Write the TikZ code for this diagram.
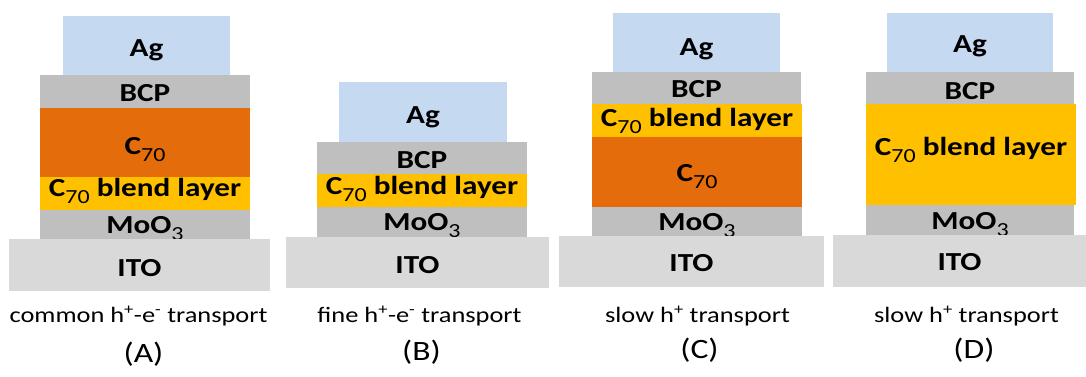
\documentclass[tikz,border=0pt]{standalone}
\usepackage{fontspec}
\setmainfont{Carlito}[FakeStretch=1.2]
\usetikzlibrary{positioning}
\definecolor{agcol}{HTML}{C5D9F1}
\definecolor{bcpcol}{HTML}{BFBFBF}
\definecolor{itocol}{HTML}{D9D9D9}
\definecolor{ccol}{HTML}{E46C0A}
\definecolor{blendcol}{HTML}{FFC000}
\newcommand{\lowsub}[1]{\raisebox{-7pt}{\fontsize{20}{20}\selectfont\mdseries #1}}
\newcommand{\Cseventy}{C\lowsub{70}}
\newcommand{\MoOthree}{MoO\lowsub{3}}

\begin{document}
\begin{tikzpicture}[x=1pt,y=-1pt,
  layer/.style={inner sep=0pt,outer sep=0pt,text height=21pt,text depth=0pt,
    font=\fontsize{26}{30}\selectfont\bfseries},
  caption/.style={anchor=base,inner sep=0pt,font=\fontsize{22}{26}\selectfont},
  tag/.style={anchor=base,inner sep=0pt,font=\fontsize{28}{32}\selectfont}]
  \useasboundingbox (0,0) rectangle (1086,376);
  % (A)
  \node[layer,fill=agcol,minimum width=167pt,minimum height=59pt,text height=22pt] (Aag) at (146.5,45.5) {Ag};
  \node[layer,fill=bcpcol,minimum width=210pt,minimum height=33pt] (Abcp) at (145,91) {BCP};
  \node[layer,fill=ccol,minimum width=210pt,minimum height=70pt,text height=23pt] (Ac) at (145,142.5) {\Cseventy};
  \node[layer,fill=blendcol,minimum width=210pt,minimum height=33pt,text height=5pt] (Ablend) at (145,193.5) {\Cseventy{} blend layer};
  \node[layer,fill=bcpcol,minimum width=210pt,minimum height=29.2pt,text height=18pt] (Amoo) at (145,224.5) {\MoOthree};
  \node[layer,fill=itocol,minimum width=261pt,minimum height=52pt,text height=22pt] (Aito) at (139.5,265) {ITO};
  \node[caption] (Acap) at (138.5,322) {common h\textsuperscript{+}-e\textsuperscript{-} transport};
  \node[tag] (Atag) at (143.5,362) {(A)};
  % (B)
  \node[layer,fill=agcol,minimum width=168pt,minimum height=60.3pt,text height=22pt] (Bag) at (423,112.15) {Ag};
  \node[layer,fill=bcpcol,minimum width=210pt,minimum height=32pt,text height=20pt] (Bbcp) at (422,158.3) {BCP};
  \node[layer,fill=blendcol,minimum width=210pt,minimum height=32.4pt,text height=8pt] (Bblend) at (422,190.5) {\Cseventy{} blend layer};
  \node[layer,fill=bcpcol,minimum width=210pt,minimum height=30.4pt,text height=17pt] (Bmoo) at (422,221.85) {\MoOthree};
  \node[layer,fill=itocol,minimum width=263pt,minimum height=51pt] (Bito) at (417.5,262.5) {ITO};
  \node[caption] (Bcap) at (419.5,322) {fine h\textsuperscript{+}-e\textsuperscript{-} transport};
  \node[tag] (Btag) at (421.5,360) {(B)};
  % (C)
  \node[layer,fill=agcol,minimum width=167pt,minimum height=59pt,text height=25pt] (Cag) at (696.5,42.8) {Ag};
  \node[layer,fill=bcpcol,minimum width=209pt,minimum height=32pt,text height=19pt] (Cbcp) at (696.5,88.3) {BCP};
  \node[layer,fill=blendcol,minimum width=210pt,minimum height=32.4pt,text height=12pt] (Cblend) at (697,120.5) {\Cseventy{} blend layer};
  \node[layer,fill=ccol,minimum width=210pt,minimum height=70pt,text height=20pt] (Cc) at (697,171.7) {\Cseventy};
  \node[layer,fill=bcpcol,minimum width=210pt,minimum height=29.6pt,text height=18pt] (Cmoo) at (697,221.4) {\MoOthree};
  \node[layer,fill=itocol,minimum width=265pt,minimum height=51pt,text height=20pt] (Cito) at (691.5,261.5) {ITO};
  \node[caption] (Ccap) at (697.5,322) {slow h\textsuperscript{+} transport};
  \node[tag] (Ctag) at (699.5,358) {(C)};
  % (D)
  \node[layer,fill=agcol,minimum width=166pt,minimum height=59pt,text height=20pt] (Dag) at (970,42.8) {Ag};
  \node[layer,fill=bcpcol,minimum width=208pt,minimum height=32pt,text height=23pt] (Dbcp) at (970,88.3) {BCP};
  \node[layer,fill=blendcol,minimum width=210pt,minimum height=100.8pt,text height=2pt] (Dblend) at (971,154.65) {\Cseventy{} blend layer};
  \node[layer,fill=bcpcol,minimum width=208pt,minimum height=30pt,text height=19pt] (Dmoo) at (970,220) {\MoOthree};
  \node[layer,fill=itocol,minimum width=253pt,minimum height=52pt,text height=18pt] (Dito) at (959.5,261) {ITO};
  \node[caption] (Dcap) at (966.5,322) {slow h\textsuperscript{+} transport};
  \node[tag] (Dtag) at (974,358) {(D)};
\end{tikzpicture}
\end{document}
